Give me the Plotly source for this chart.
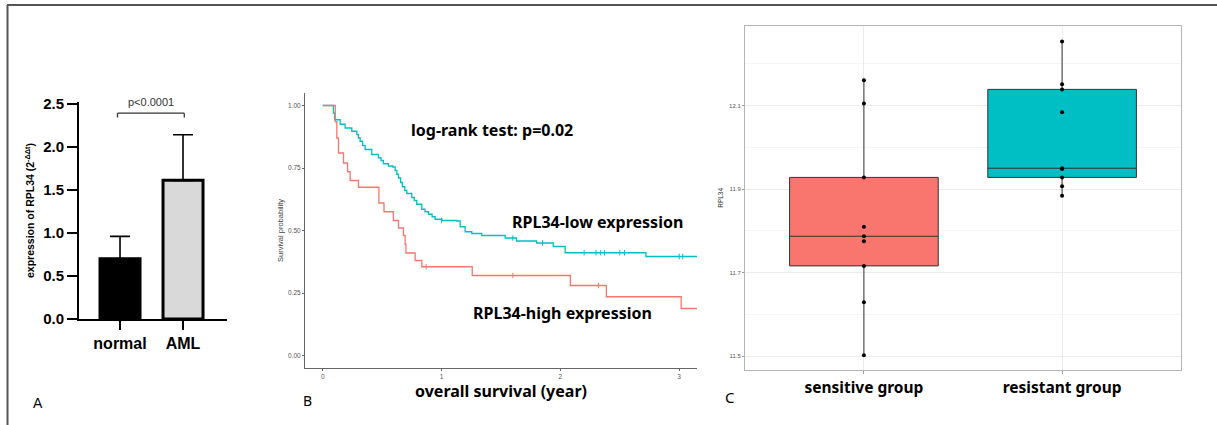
import plotly.graph_objects as go

W, H = 1217, 425

# ---------------- Data ----------------
# Panel A
bar_categories = ["normal", "AML"]
bar_values = [0.70, 1.61]
bar_err_up = [0.26, 0.53]
sig_level = 2.39
sig_text = "p<0.0001"

# Panel B (Kaplan-Meier, step curves)
low_t = [0, 0.089, 0.100, 0.146, 0.188, 0.244, 0.286, 0.300, 0.314, 0.335, 0.356,
         0.412, 0.468, 0.490, 0.510, 0.552, 0.590, 0.609, 0.623, 0.637, 0.655,
         0.670, 0.690, 0.707, 0.749, 0.770, 0.791, 0.833, 0.860, 0.889, 0.920,
         0.945, 1.002, 1.128, 1.156, 1.198, 1.254, 1.338, 1.535, 1.630, 1.800,
         1.940, 2.040, 2.720, 3.150]
low_s = [1.0, 0.970, 0.943, 0.925, 0.910, 0.897, 0.884, 0.870, 0.857, 0.840, 0.824,
         0.804, 0.791, 0.780, 0.767, 0.758, 0.754, 0.740, 0.725, 0.710, 0.692,
         0.675, 0.660, 0.648, 0.632, 0.620, 0.605, 0.585, 0.575, 0.565, 0.555,
         0.545, 0.540, 0.538, 0.515, 0.495, 0.488, 0.480, 0.470, 0.458, 0.450,
         0.436, 0.411, 0.396, 0.396]
high_t = [0, 0.105, 0.118, 0.132, 0.174, 0.208, 0.230, 0.300, 0.472, 0.515, 0.594,
          0.637, 0.679, 0.693, 0.700, 0.777, 0.833, 1.258, 2.084, 2.387, 3.017, 3.150]
high_s = [1.0, 0.935, 0.870, 0.810, 0.770, 0.735, 0.700, 0.673, 0.610, 0.575, 0.540,
          0.510, 0.480, 0.445, 0.410, 0.380, 0.355, 0.320, 0.280, 0.235, 0.188, 0.188]
low_cens_t = [1.00, 1.60, 1.85, 2.20, 2.30, 2.34, 2.37, 2.50, 2.54, 3.00, 3.03]
low_cens_s = [0.540, 0.470, 0.450, 0.411, 0.411, 0.411, 0.411, 0.411, 0.411, 0.396, 0.396]
high_cens_t = [0.87, 1.60, 2.32]
high_cens_s = [0.355, 0.320, 0.280]
km_xticks = [0, 1, 2, 3]
km_yticks = [0.0, 0.25, 0.5, 0.75, 1.0]

# Panel C (box plot)
box_categories = ["sensitive group", "resistant group"]
sensitive_vals = [11.502, 11.629, 11.716, 11.775, 11.787, 11.810, 11.928, 12.105, 12.161]
resistant_vals = [11.884, 11.907, 11.928, 11.948, 11.950, 12.084, 12.139, 12.151, 12.254]
box_yticks = [11.5, 11.7, 11.9, 12.1]

RED = "#F8766D"
TEAL = "#00BFC4"

def px_x(x):
    return x / W

def px_y(y):
    return 1 - y / H

fig = go.Figure()

# ---------------- Panel A ----------------
fig.add_trace(go.Bar(
    x=bar_categories, y=bar_values, xaxis="x", yaxis="y",
    width=0.635,
    marker=dict(color=["#000000", "#d9d9d9"], line=dict(color="black", width=3)),
    error_y=dict(type="data", array=bar_err_up, arrayminus=[0, 0], symmetric=False,
                 color="black", thickness=1.6, width=10),
    showlegend=False, hoverinfo="skip",
))

# ---------------- Panel B ----------------
fig.add_trace(go.Scatter(x=low_t, y=low_s, mode="lines", line=dict(color=TEAL, width=1.3, shape="hv"),
                         xaxis="x2", yaxis="y2", showlegend=False))
fig.add_trace(go.Scatter(x=high_t, y=high_s, mode="lines", line=dict(color=RED, width=1.3, shape="hv"),
                         xaxis="x2", yaxis="y2", showlegend=False))
fig.add_trace(go.Scatter(x=low_cens_t, y=low_cens_s, mode="markers",
                         marker=dict(symbol="line-ns-open", size=4, color=TEAL, line=dict(width=1, color=TEAL)),
                         xaxis="x2", yaxis="y2", showlegend=False))
fig.add_trace(go.Scatter(x=high_cens_t, y=high_cens_s, mode="markers",
                         marker=dict(symbol="line-ns-open", size=4, color=RED, line=dict(width=1, color=RED)),
                         xaxis="x2", yaxis="y2", showlegend=False))

# ---------------- Panel C ----------------
for cat, vals, col in [(box_categories[0], sensitive_vals, RED), (box_categories[1], resistant_vals, TEAL)]:
    fig.add_trace(go.Box(
        x=[cat] * len(vals), y=vals, xaxis="x3", yaxis="y3",
        fillcolor=col, line=dict(color="#333333", width=1),
        whiskerwidth=0, width=0.75, boxpoints="all", jitter=0, pointpos=0,
        marker=dict(color="black", size=4), quartilemethod="inclusive",
        showlegend=False,
    ))

AF = "Liberation Sans"
NF = "Noto Sans"

fig.update_layout(
    width=W, height=H, margin=dict(l=0, r=0, t=0, b=0, pad=0), autosize=False,
    paper_bgcolor="white", plot_bgcolor="white", boxmode="overlay",
    xaxis=dict(domain=[px_x(79), px_x(227)], anchor="y", type="category", automargin=False,
               range=[-0.651, 1.698], showline=True, linecolor="black", linewidth=2,
               ticks="outside", ticklen=9, tickwidth=2, tickcolor="black",
               tickfont=dict(family=AF, size=16, color="black", weight="bold"),
               showgrid=False, zeroline=False, fixedrange=True),
    yaxis=dict(domain=[px_y(319), px_y(102)], anchor="x", range=[0, 2.52], automargin=False,
               tickvals=[0, 0.5, 1.0, 1.5, 2.0, 2.5], tickformat=".1f",
               showline=True, linecolor="black", linewidth=2,
               ticks="outside", ticklen=10, tickwidth=2, tickcolor="black",
               tickfont=dict(family=AF, size=15, color="black", weight="bold"),
               showgrid=False, zeroline=False,
               title=dict(text="expression of RPL34 (2<sup>-ΔΔt</sup>)",
                          font=dict(family=AF, size=10.5, color="black", weight="bold"), standoff=6)),
    xaxis2=dict(domain=[px_x(305), px_x(697)], anchor="y2", range=[-0.15, 3.15], automargin=False,
                tickvals=km_xticks, showline=True, linecolor="#666", linewidth=1,
                ticks="outside", ticklen=2, tickcolor="#666",
                tickfont=dict(family=AF, size=6.5, color="#555"),
                showgrid=False, zeroline=False,
                title=dict(text="overall survival (year)",
                           font=dict(family=NF, size=16, color="black", weight="bold"), standoff=6)),
    yaxis2=dict(domain=[px_y(368), px_y(93)], anchor="x2", range=[-0.05, 1.05], automargin=False,
                tickvals=km_yticks, tickformat=".2f", showline=True, linecolor="#666", linewidth=1,
                ticks="outside", ticklen=2, tickcolor="#666",
                tickfont=dict(family=AF, size=6.5, color="#555"),
                showgrid=False, zeroline=False,
                title=dict(text="Survival probability", font=dict(family=AF, size=7.5, color="#444"),
                           standoff=3)),
    xaxis3=dict(domain=[px_x(745), px_x(1181)], anchor="y3", type="category", automargin=False,
                range=[-0.6, 1.6], showline=True, mirror=True, linecolor="#b5b5b5", linewidth=1,
                ticks="outside", ticklen=3, tickcolor="#999",
                tickfont=dict(family=NF, size=15.5, color="black", weight="bold"),
                showgrid=True, gridcolor="#ececec", gridwidth=1, zeroline=False),
    yaxis3=dict(domain=[px_y(370), px_y(25.7)], anchor="x3", range=[11.4665, 12.2916], automargin=False,
                tickvals=box_yticks, ticktext=[f"{v:.1f}" for v in box_yticks],
                showline=True, mirror=True, linecolor="#b5b5b5", linewidth=1,
                ticks="outside", ticklen=2, tickcolor="#999",
                tickfont=dict(family=AF, size=6, color="#555"),
                showgrid=True, gridcolor="#ececec", gridwidth=1, zeroline=False,
                minor=dict(dtick=0.1, tick0=11.5, showgrid=True, gridcolor="#f5f5f5", gridwidth=0.6),
                title=dict(text="RPL34", font=dict(family=AF, size=6.5, color="#333"), standoff=4)),
)

shapes = [
    # outer frame (top and left)
    dict(type="line", xref="paper", yref="paper", x0=px_x(7), x1=1, y0=px_y(5), y1=px_y(5),
         line=dict(color="#555", width=2)),
    dict(type="line", xref="paper", yref="paper", x0=px_x(7.5), x1=px_x(7.5), y0=0, y1=px_y(5),
         line=dict(color="#555", width=2)),
    # significance bracket
    dict(type="line", xref="x", yref="y", x0=-0.04, x1=1.02, y0=sig_level, y1=sig_level,
         line=dict(color="#333", width=1.3)),
    dict(type="line", xref="x", yref="y", x0=-0.04, x1=-0.04, y0=sig_level, y1=sig_level - 0.05,
         line=dict(color="#333", width=1.3)),
    dict(type="line", xref="x", yref="y", x0=1.02, x1=1.02, y0=sig_level, y1=sig_level - 0.05,
         line=dict(color="#333", width=1.3)),
]
fig.update_layout(shapes=shapes)

def ann(text, x, y, size, family=NF, weight="bold", color="black"):
    return dict(text=text, x=px_x(x), y=px_y(y), xref="paper", yref="paper",
                xanchor="center", yanchor="middle", showarrow=False,
                font=dict(family=family, size=size, color=color, weight=weight))

annotations = [
    dict(text=sig_text, x=0.49, y=sig_level, xref="x", yref="y", yshift=11,
         xanchor="center", yanchor="middle", showarrow=False,
         font=dict(family=AF, size=11, color="#333")),
    ann("log-rank test: p=0.02", 491.7, 130, 16),
    ann("RPL34-low expression", 597.7, 222, 16),
    ann("RPL34-high expression", 562.7, 313, 16),
    ann("A", 38, 403, 14, family=AF, weight="normal"),
    ann("B", 307, 400, 14, weight="normal"),
    ann("C", 730, 397, 15, weight="normal"),
]
fig.update_layout(annotations=annotations)

fig.write_html("out.html", config={"displayModeBar": False},
               post_script="document.body.style.margin='0px';document.body.style.overflow='hidden';")
